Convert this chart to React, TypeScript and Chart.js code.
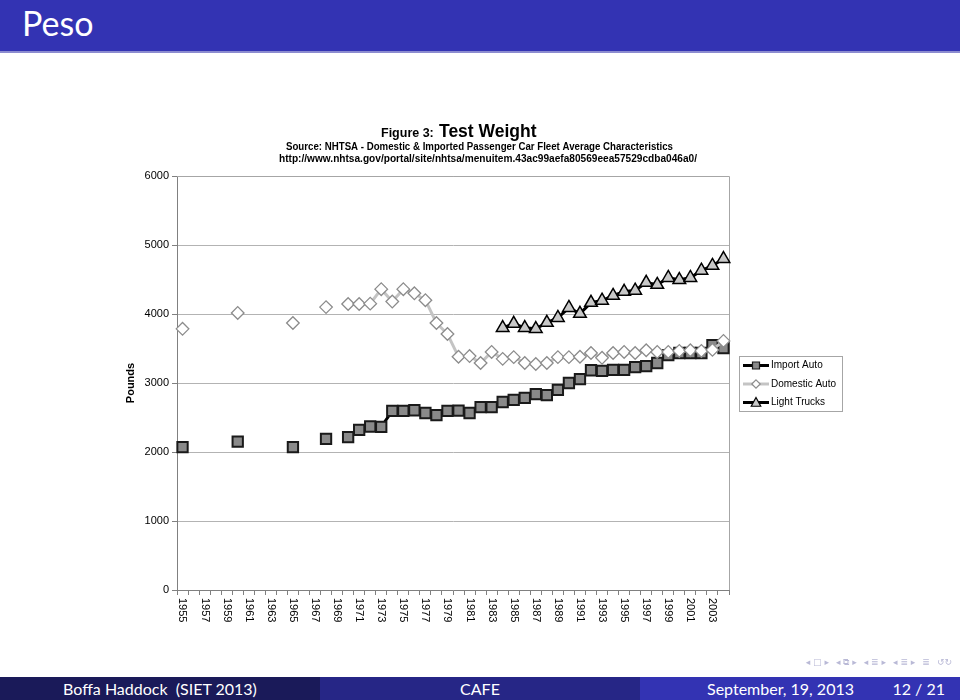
import React, { useEffect, useRef } from 'react';
import { Chart, registerables } from 'chart.js';

Chart.register(...registerables);

const FONT = "'Liberation Sans', Arial, Helvetica, sans-serif";
const SLIDE_FONT = "Lato, 'Liberation Sans', sans-serif";

const years = [
  '1955', '1956', '1957', '1958', '1959', '1960', '1961', '1962', '1963', '1964',
  '1965', '1966', '1967', '1968', '1969', '1970', '1971', '1972', '1973', '1974',
  '1975', '1976', '1977', '1978', '1979', '1980', '1981', '1982', '1983', '1984',
  '1985', '1986', '1987', '1988', '1989', '1990', '1991', '1992', '1993', '1994',
  '1995', '1996', '1997', '1998', '1999', '2000', '2001', '2002', '2003', '2004',
];

const xTickLabels = [
  '1955', '1957', '1959', '1961', '1963', '1965', '1967', '1969', '1971', '1973',
  '1975', '1977', '1979', '1981', '1983', '1985', '1987', '1989', '1991', '1993',
  '1995', '1997', '1999', '2001', '2003',
];

const yTicks = [0, 1000, 2000, 3000, 4000, 5000, 6000];

// 1955 .. 2004
const importAuto = [
  2070, null, null, null, null, 2150, null, null, null, null,
  2070, null, null, 2190, null, 2215, 2320, 2370, 2365, 2595,
  2595, 2605, 2565, 2535, 2595, 2600, 2565, 2650, 2650, 2725,
  2755, 2785, 2840, 2825, 2900, 3000, 3055, 3185, 3175, 3190,
  3190, 3230, 3245, 3290, 3405, 3435, 3435, 3435, 3550, 3505,
];

const domesticAuto = [
  3785, null, null, null, null, 4015, null, null, null, null,
  3870, null, null, 4100, null, 4145, 4145, 4150, 4360, 4180,
  4360, 4300, 4200, 3870, 3710, 3380, 3390, 3290, 3450, 3350,
  3375, 3290, 3275, 3290, 3375, 3375, 3380, 3435, 3365, 3435,
  3450, 3435, 3475, 3450, 3450, 3465, 3475, 3465, 3480, 3610,
];

const lightTrucks = [
  null, null, null, null, null, null, null, null, null, null,
  null, null, null, null, null, null, null, null, null, null,
  null, null, null, null, null, null, null, null, null, 3800,
  3860, 3800, 3785, 3875, 3945, 4090, 4005, 4165, 4195, 4265,
  4325, 4340, 4455, 4425, 4525, 4495, 4525, 4630, 4700, 4800,
];

const seriesNames = ['Import Auto', 'Domestic Auto', 'Light Trucks'];

function drawMarker(ctx: CanvasRenderingContext2D, style: string, x: number, y: number, r: number, fill: string, stroke: string, lw: number) {
  ctx.save();
  ctx.beginPath();
  if (style === 'rect') {
    ctx.rect(x - r, y - r, 2 * r, 2 * r);
  } else if (style === 'rectRot') {
    ctx.moveTo(x, y - r);
    ctx.lineTo(x + r, y);
    ctx.lineTo(x, y + r);
    ctx.lineTo(x - r, y);
    ctx.closePath();
  } else {
    ctx.moveTo(x, y - r);
    ctx.lineTo(x + r * 0.95, y + r * 0.75);
    ctx.lineTo(x - r * 0.95, y + r * 0.75);
    ctx.closePath();
  }
  ctx.fillStyle = fill;
  ctx.fill();
  ctx.lineWidth = lw;
  ctx.strokeStyle = stroke;
  ctx.stroke();
  ctx.restore();
}

const decorPlugin = {
  id: 'decor',
  beforeDatasetsDraw(chart: any) {
    const ctx: CanvasRenderingContext2D = chart.ctx;
    const ca = chart.chartArea;
    ctx.save();
    ctx.strokeStyle = '#a6a6a6';
    ctx.lineWidth = 1;
    ctx.beginPath();
    ctx.moveTo(ca.left, Math.round(ca.top) + 0.5);
    ctx.lineTo(Math.round(ca.right) + 0.5, Math.round(ca.top) + 0.5);
    ctx.lineTo(Math.round(ca.right) + 0.5, ca.bottom);
    ctx.stroke();
    ctx.restore();
  },
  afterDraw(chart: any) {
    const ctx: CanvasRenderingContext2D = chart.ctx;
    const ca = chart.chartArea;
    const xs = chart.scales.x;
    ctx.save();

    // rotated category labels (reading top to bottom)
    ctx.fillStyle = '#000';
    ctx.font = `11px ${FONT}`;
    ctx.textAlign = 'left';
    ctx.textBaseline = 'middle';
    years.forEach((yr, i) => {
      if (!xTickLabels.includes(yr)) return;
      const px = xs.getPixelForValue(i);
      ctx.save();
      ctx.translate(px, ca.bottom + 8);
      ctx.rotate(Math.PI / 2);
      ctx.fillText(yr, 0, 0);
      ctx.restore();
    });

    // chart titles
    ctx.textBaseline = 'alphabetic';
    ctx.textAlign = 'left';
    ctx.font = `bold 12.5px ${FONT}`;
    ctx.fillText('Figure 3:', 381, 137, 53);
    ctx.font = `bold 17.5px ${FONT}`;
    ctx.fillText('Test Weight', 439, 137, 102);
    ctx.font = `bold 10.5px ${FONT}`;
    ctx.fillText('Source: NHTSA - Domestic & Imported Passenger Car Fleet Average Characteristics', 286, 150, 387);
    ctx.fillText('http://www.nhtsa.gov/portal/site/nhtsa/menuitem.43ac99aefa80569eea57529cdba046a0/', 279, 162, 418);

    // legend
    const lx = 739, ly = 356, lw = 103, lh = 55;
    ctx.fillStyle = '#ffffff';
    ctx.fillRect(lx, ly, lw, lh);
    ctx.strokeStyle = '#a6a6a6';
    ctx.lineWidth = 1;
    ctx.strokeRect(lx + 0.5, ly + 0.5, lw, lh);
    const sizes: Record<string, number> = { rect: 3.5, rectRot: 4.2, triangle: 5 };
    chart.data.datasets.forEach((ds: any, i: number) => {
      const cy = ly + 9.5 + i * 18.5;
      ctx.strokeStyle = ds.borderColor;
      ctx.lineWidth = ds.borderWidth;
      ctx.beginPath();
      ctx.moveTo(lx + 4, cy);
      ctx.lineTo(lx + 30, cy);
      ctx.stroke();
      drawMarker(ctx, ds.pointStyle, lx + 17, cy, sizes[ds.pointStyle], ds.pointBackgroundColor, ds.pointBorderColor, 1.2);
      ctx.fillStyle = '#000';
      ctx.font = `10px ${FONT}`;
      ctx.textBaseline = 'middle';
      ctx.fillText(ds.label, lx + 32, cy);
    });

    ctx.restore();
  },
};

export default function App() {
  const canvasRef = useRef<HTMLCanvasElement | null>(null);

  useEffect(() => {
    if (!canvasRef.current) return;
    Chart.defaults.font.family = FONT;
    const chart = new Chart(canvasRef.current, {
      type: 'line',
      data: {
        labels: years,
        datasets: [
          {
            label: seriesNames[0],
            data: importAuto,
            borderColor: '#000000',
            borderWidth: 3,
            pointStyle: 'rect',
            pointRadius: 7.3,
            pointBackgroundColor: '#8a8a8a',
            pointBorderColor: '#1a1a1a',
            pointBorderWidth: 2,
            order: 3,
            spanGaps: false,
          },
          {
            label: seriesNames[1],
            data: domesticAuto,
            borderColor: '#c4c4c4',
            borderWidth: 3,
            pointStyle: 'rectRot',
            pointRadius: 6.3,
            pointBackgroundColor: '#ffffff',
            pointBorderColor: '#8c8c8c',
            pointBorderWidth: 1.3,
            order: 2,
            spanGaps: false,
          },
          {
            label: seriesNames[2],
            data: lightTrucks,
            borderColor: '#000000',
            borderWidth: 3,
            pointStyle: 'triangle',
            pointRadius: 7.3,
            pointBackgroundColor: '#c8c8c8',
            pointBorderColor: '#000000',
            pointBorderWidth: 1.5,
            order: 1,
            spanGaps: false,
          },
        ],
      },
      options: {
        responsive: false,
        animation: false,
        devicePixelRatio: 1,
        layout: { padding: { left: 100, top: 176, right: 231, bottom: 70 } },
        plugins: {
          legend: { display: false },
          tooltip: { enabled: false },
          title: { display: false },
        },
        scales: {
          x: {
            type: 'category',
            offset: true,
            grid: { display: true, drawOnChartArea: false, drawTicks: true, tickLength: 5, offset: true, color: '#808080' },
            border: { display: true, color: '#808080', width: 1 },
            ticks: { display: false, autoSkip: false },
            afterFit: (s: any) => { s.height = 40; },
          },
          y: {
            min: 0,
            max: 6000,
            afterBuildTicks: (s: any) => { s.ticks = yTicks.map((v) => ({ value: v })); },
            ticks: { color: '#000', font: { size: 11 }, padding: 3, callback: (v: any) => String(v) },
            grid: { color: '#b3b3b3', tickColor: '#808080', tickLength: 5, lineWidth: 1 },
            border: { display: true, color: '#808080', width: 1 },
            title: {
              display: true,
              text: 'Pounds',
              color: '#000',
              font: { size: 11, weight: 'bold' },
              padding: { top: 24, bottom: 0 },
            },
            afterFit: (s: any) => { s.width = 77; },
          },
        },
      } as any,
      plugins: [decorPlugin],
    });
    return () => chart.destroy();
  }, []);

  const navStyle: React.CSSProperties = { color: '#b9b9d6', fontSize: 9, fontFamily: "'DejaVu Sans', sans-serif", marginRight: 7, whiteSpace: 'nowrap' };

  return (
    <div style={{ position: 'fixed', left: 0, top: 0, width: 960, height: 700, background: '#ffffff', overflow: 'hidden' }}>
      <canvas ref={canvasRef} width={960} height={700} style={{ position: 'absolute', left: 0, top: 0, width: 960, height: 700, display: 'block' }} />
      <div style={{ position: 'absolute', left: 0, top: 0, width: 960, height: 51, background: '#3333b3' }} />
      <div style={{ position: 'absolute', left: 0, top: 51, width: 960, height: 2, background: '#8c8cd0' }} />
      <div style={{ position: 'absolute', left: 22, top: 3, color: '#ffffff', fontFamily: SLIDE_FONT, fontSize: 34, lineHeight: '40px' }}>Peso</div>

      <div style={{ position: 'absolute', right: 8, top: 654, height: 16, display: 'flex', alignItems: 'center', whiteSpace: 'nowrap' }}>
        <span style={navStyle}>◂ □ ▸</span>
        <span style={navStyle}>◂ ⧉ ▸</span>
        <span style={navStyle}>◂ ≣ ▸</span>
        <span style={navStyle}>◂ ≣ ▸</span>
        <span style={navStyle}>≣</span>
        <span style={{ ...navStyle, marginRight: 0 }}>↺↻</span>
      </div>

      <div style={{ position: 'absolute', left: 0, top: 677, width: 320, height: 23, background: '#1a1a59', color: '#fff', fontFamily: SLIDE_FONT, fontSize: 16, lineHeight: '23px', textAlign: 'center' }}>
        Boffa Haddock&nbsp;&nbsp;(SIET 2013)
      </div>
      <div style={{ position: 'absolute', left: 320, top: 677, width: 320, height: 23, background: '#262686', color: '#fff', fontFamily: SLIDE_FONT, fontSize: 16, lineHeight: '23px', textAlign: 'center' }}>
        CAFE
      </div>
      <div style={{ position: 'absolute', left: 640, top: 677, width: 320, height: 23, background: '#3333b3', color: '#fff', fontFamily: SLIDE_FONT, fontSize: 16, lineHeight: '23px' }}>
        <span style={{ position: 'absolute', left: 67 }}>September, 19, 2013</span>
        <span style={{ position: 'absolute', right: 15 }}>12 / 21</span>
      </div>
    </div>
  );
}
